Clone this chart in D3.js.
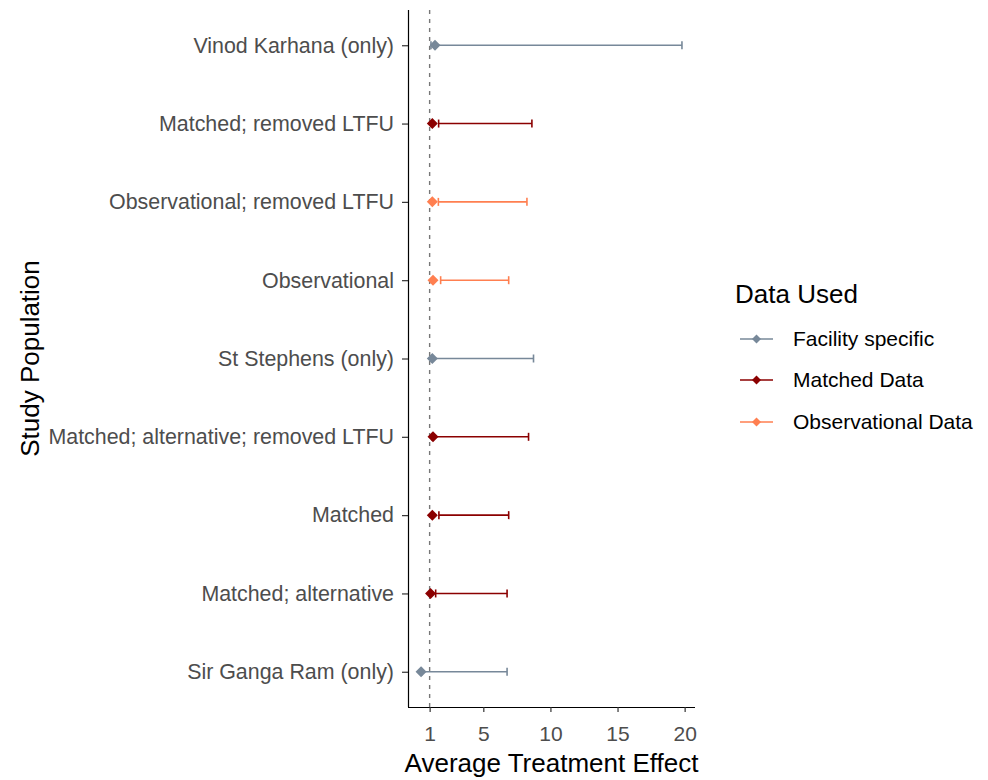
<!DOCTYPE html>
<html>
<head>
<meta charset="utf-8">
<script src="https://cdn.jsdelivr.net/npm/d3@7"></script>
<style>
  html, body { margin: 0; padding: 0; background: #ffffff; }
  svg { display: block; font-family: "Liberation Sans", Arial, sans-serif; }
</style>
</head>
<body>
<svg id="chart" width="988" height="780"></svg>
<script>
// Study populations, listed top to bottom
const populations = [
  "Vinod Karhana (only)",
  "Matched; removed LTFU",
  "Observational; removed LTFU",
  "Observational",
  "St Stephens (only)",
  "Matched; alternative; removed LTFU",
  "Matched",
  "Matched; alternative",
  "Sir Ganga Ram (only)"
];
// Data source of each population
const dataUsed = [
  "Facility specific",
  "Matched Data",
  "Observational Data",
  "Observational Data",
  "Facility specific",
  "Matched Data",
  "Matched Data",
  "Matched Data",
  "Facility specific"
];
// Average treatment effect estimates and interval bounds
const estimate = [1.40, 1.20, 1.20, 1.25, 1.20, 1.25, 1.20, 1.07, 0.36];
const lower    = [1.10, 1.67, 1.65, 1.82, 1.15, 1.20, 1.69, 1.45, 0.40];
const upper    = [19.8, 8.62, 8.25, 6.89, 8.74, 8.37, 6.89, 6.77, 6.77];

const groups = ["Facility specific", "Matched Data", "Observational Data"];
const groupColors = ["#778899", "#8B0000", "#FF7F50"];
const xTicks = [1, 5, 10, 15, 20];
const refValue = 1;

const rows = populations.map((p, i) => ({
  pop: p, group: dataUsed[i], est: estimate[i], lo: lower[i], hi: upper[i]
}));

const svg = d3.select("#chart");
svg.append("rect").attr("width", 988).attr("height", 780).attr("fill", "#fff");

const panel = { left: 408, right: 695, top: 10, bottom: 707 };

// continuous range with 5% padding on each side
const vmin = d3.min(rows, d => Math.min(d.est, d.lo));
const vmax = d3.max(rows, d => Math.max(d.est, d.hi));
const pad = (vmax - vmin) * 0.05;
const x = d3.scaleLinear().domain([vmin - pad, vmax + pad]).range([panel.left, panel.right]);
const y = d3.scalePoint().domain(populations).range([panel.top, panel.bottom]).padding(0.45);
const color = d3.scaleOrdinal().domain(groups).range(groupColors);

// filled diamond (square turned 45 degrees)
const diamond = r => `M0,${-r}L${r},0L0,${r}L${-r},0Z`;

// reference line at no effect
svg.append("line")
  .attr("x1", x(refValue)).attr("x2", x(refValue))
  .attr("y1", panel.top).attr("y2", panel.bottom)
  .attr("stroke", "#777").attr("stroke-width", 1.4)
  .attr("stroke-dasharray", "4,5");

// interval bars
const capH = 4;
const bars = svg.append("g").selectAll("g").data(rows).join("g")
  .attr("stroke", d => color(d.group)).attr("stroke-width", 1.6).attr("fill", "none");
bars.append("line")
  .attr("x1", d => x(d.lo)).attr("x2", d => x(d.hi))
  .attr("y1", d => y(d.pop)).attr("y2", d => y(d.pop));
bars.append("line")
  .attr("x1", d => x(d.lo)).attr("x2", d => x(d.lo))
  .attr("y1", d => y(d.pop) - capH).attr("y2", d => y(d.pop) + capH);
bars.append("line")
  .attr("x1", d => x(d.hi)).attr("x2", d => x(d.hi))
  .attr("y1", d => y(d.pop) - capH).attr("y2", d => y(d.pop) + capH);

// point estimates
svg.append("g").selectAll("path").data(rows).join("path")
  .attr("d", diamond(5.5))
  .attr("transform", d => `translate(${x(d.est)},${y(d.pop)})`)
  .attr("fill", d => color(d.group));

// axes
const xAxis = svg.append("g")
  .attr("transform", `translate(0,${panel.bottom})`)
  .call(d3.axisBottom(x).tickValues(xTicks).tickSize(5).tickPadding(14).tickSizeOuter(0));
const yAxis = svg.append("g")
  .attr("transform", `translate(${panel.left},0)`)
  .call(d3.axisLeft(y).tickSize(6).tickPadding(8).tickSizeOuter(0));

[xAxis, yAxis].forEach(a => {
  a.select(".domain").attr("stroke", "#000").attr("stroke-width", 1.2);
  a.selectAll(".tick line").attr("stroke", "#333").attr("stroke-width", 1.2);
  a.selectAll(".tick text")
    .attr("fill", "#4d4d4d")
    .style("font-size", "21px")
    .style("font-family", "'Liberation Sans', Arial, sans-serif");
});
yAxis.selectAll(".tick text").style("font-size", "21.4px");
// axis domains span the whole panel
xAxis.select(".domain").attr("d", `M${panel.left},0.5H${panel.right}`);
yAxis.select(".domain").attr("d", `M0.5,${panel.top}V${panel.bottom}`);

// axis titles
svg.append("text")
  .attr("x", (panel.left + panel.right) / 2).attr("y", 772)
  .attr("text-anchor", "middle")
  .style("font-size", "26px").attr("fill", "#000")
  .text("Average Treatment Effect");
svg.append("text")
  .attr("transform", `translate(39,${(panel.top + panel.bottom) / 2}) rotate(-90)`)
  .attr("text-anchor", "middle")
  .style("font-size", "26px").attr("fill", "#000")
  .text("Study Population");

// legend
const legend = svg.append("g").attr("transform", "translate(735,0)");
legend.append("text")
  .attr("x", 0).attr("y", 303)
  .style("font-size", "26px").attr("fill", "#000")
  .text("Data Used");
const keyY = [339, 380, 422];
const items = legend.selectAll("g.key").data(groups).join("g")
  .attr("class", "key")
  .attr("transform", (d, i) => `translate(0,${keyY[i]})`);
items.append("line")
  .attr("x1", 5).attr("x2", 38).attr("y1", 0).attr("y2", 0)
  .attr("stroke", d => color(d)).attr("stroke-width", 1.6);
items.append("path")
  .attr("d", diamond(4.5))
  .attr("transform", "translate(21.5,0)")
  .attr("fill", d => color(d));
items.append("text")
  .attr("x", 58).attr("y", 0).attr("dy", "0.35em")
  .style("font-size", "21px").attr("fill", "#000")
  .text(d => d);
</script>
</body>
</html>
